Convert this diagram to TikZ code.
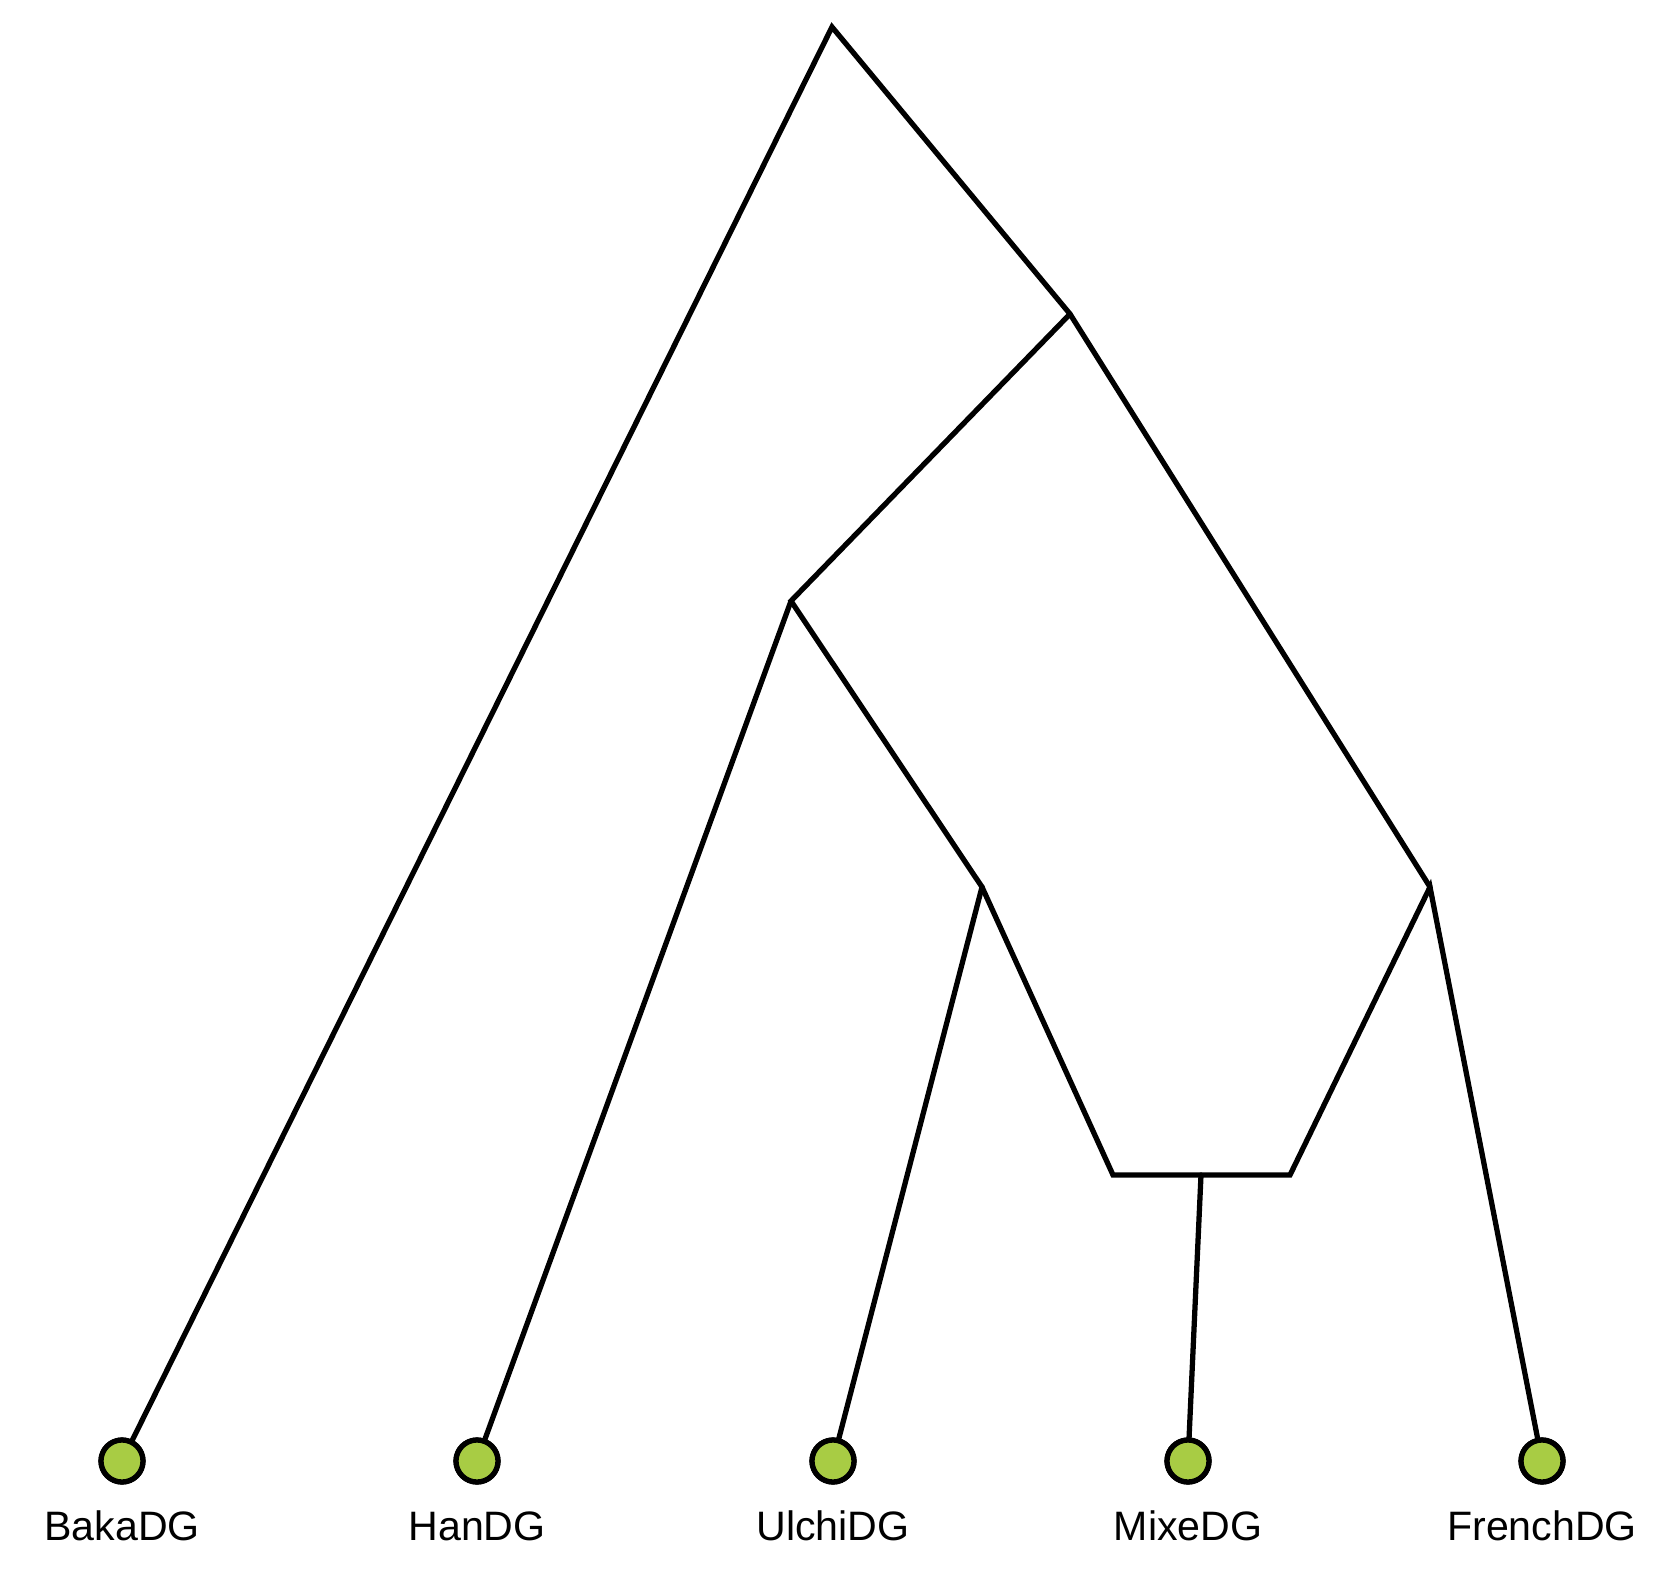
\documentclass[tikz,border=0pt]{standalone}
\usepackage{fontspec}
\setmainfont{Liberation Sans}
\definecolor{leafgreen}{RGB}{168,204,68}
\begin{document}
\begin{tikzpicture}[x=0.02cm,y=-0.02cm,
  edge/.style={line width=3.0pt,draw=black,line join=miter,line cap=round},
  leaf/.style={circle,draw=black,fill=leafgreen,line width=3.0pt,minimum size=0.84cm,inner sep=0pt},
  lbl/.style={anchor=base,inner sep=0pt,font=\fontsize{23.4}{28}\selectfont}]
\useasboundingbox (0,0) rectangle (1669,1594);
\coordinate (R) at (832,27);
\coordinate (A) at (1070,314);
\coordinate (B) at (791,601);
\coordinate (C) at (982,887);
\coordinate (D) at (1430,887);
\coordinate (BL) at (1113,1175);
\coordinate (BR) at (1290,1175);
\coordinate (BM) at (1201,1175);
\node[leaf] (baka) at (122,1461) {};
\node[leaf] (han) at (477,1461) {};
\node[leaf] (ulchi) at (833,1461) {};
\node[leaf] (mixe) at (1188,1461) {};
\node[leaf] (french) at (1542,1461) {};
\draw[edge] (baka.center) -- (R) -- (A) -- (D);
\draw[edge] (A) -- (B) -- (C);
\draw[edge] (han.center) -- (B);
\draw[edge] (ulchi.center) -- (C);
\draw[edge] (C) -- (BL) -- (BR) -- (D) -- (french.center);
\draw[edge] (BM) -- (mixe.center);
\node[leaf] at (baka) {};
\node[leaf] at (han) {};
\node[leaf] at (ulchi) {};
\node[leaf] at (mixe) {};
\node[leaf] at (french) {};
\node[lbl] (tbaka) at (122,1540) {BakaDG};
\node[lbl] (than) at (477,1540) {HanDG};
\node[lbl] (tulchi) at (833,1540) {UlchiDG};
\node[lbl] (tmixe) at (1188,1540) {MixeDG};
\node[lbl] (tfrench) at (1542,1540) {FrenchDG};
\end{tikzpicture}
\end{document}
